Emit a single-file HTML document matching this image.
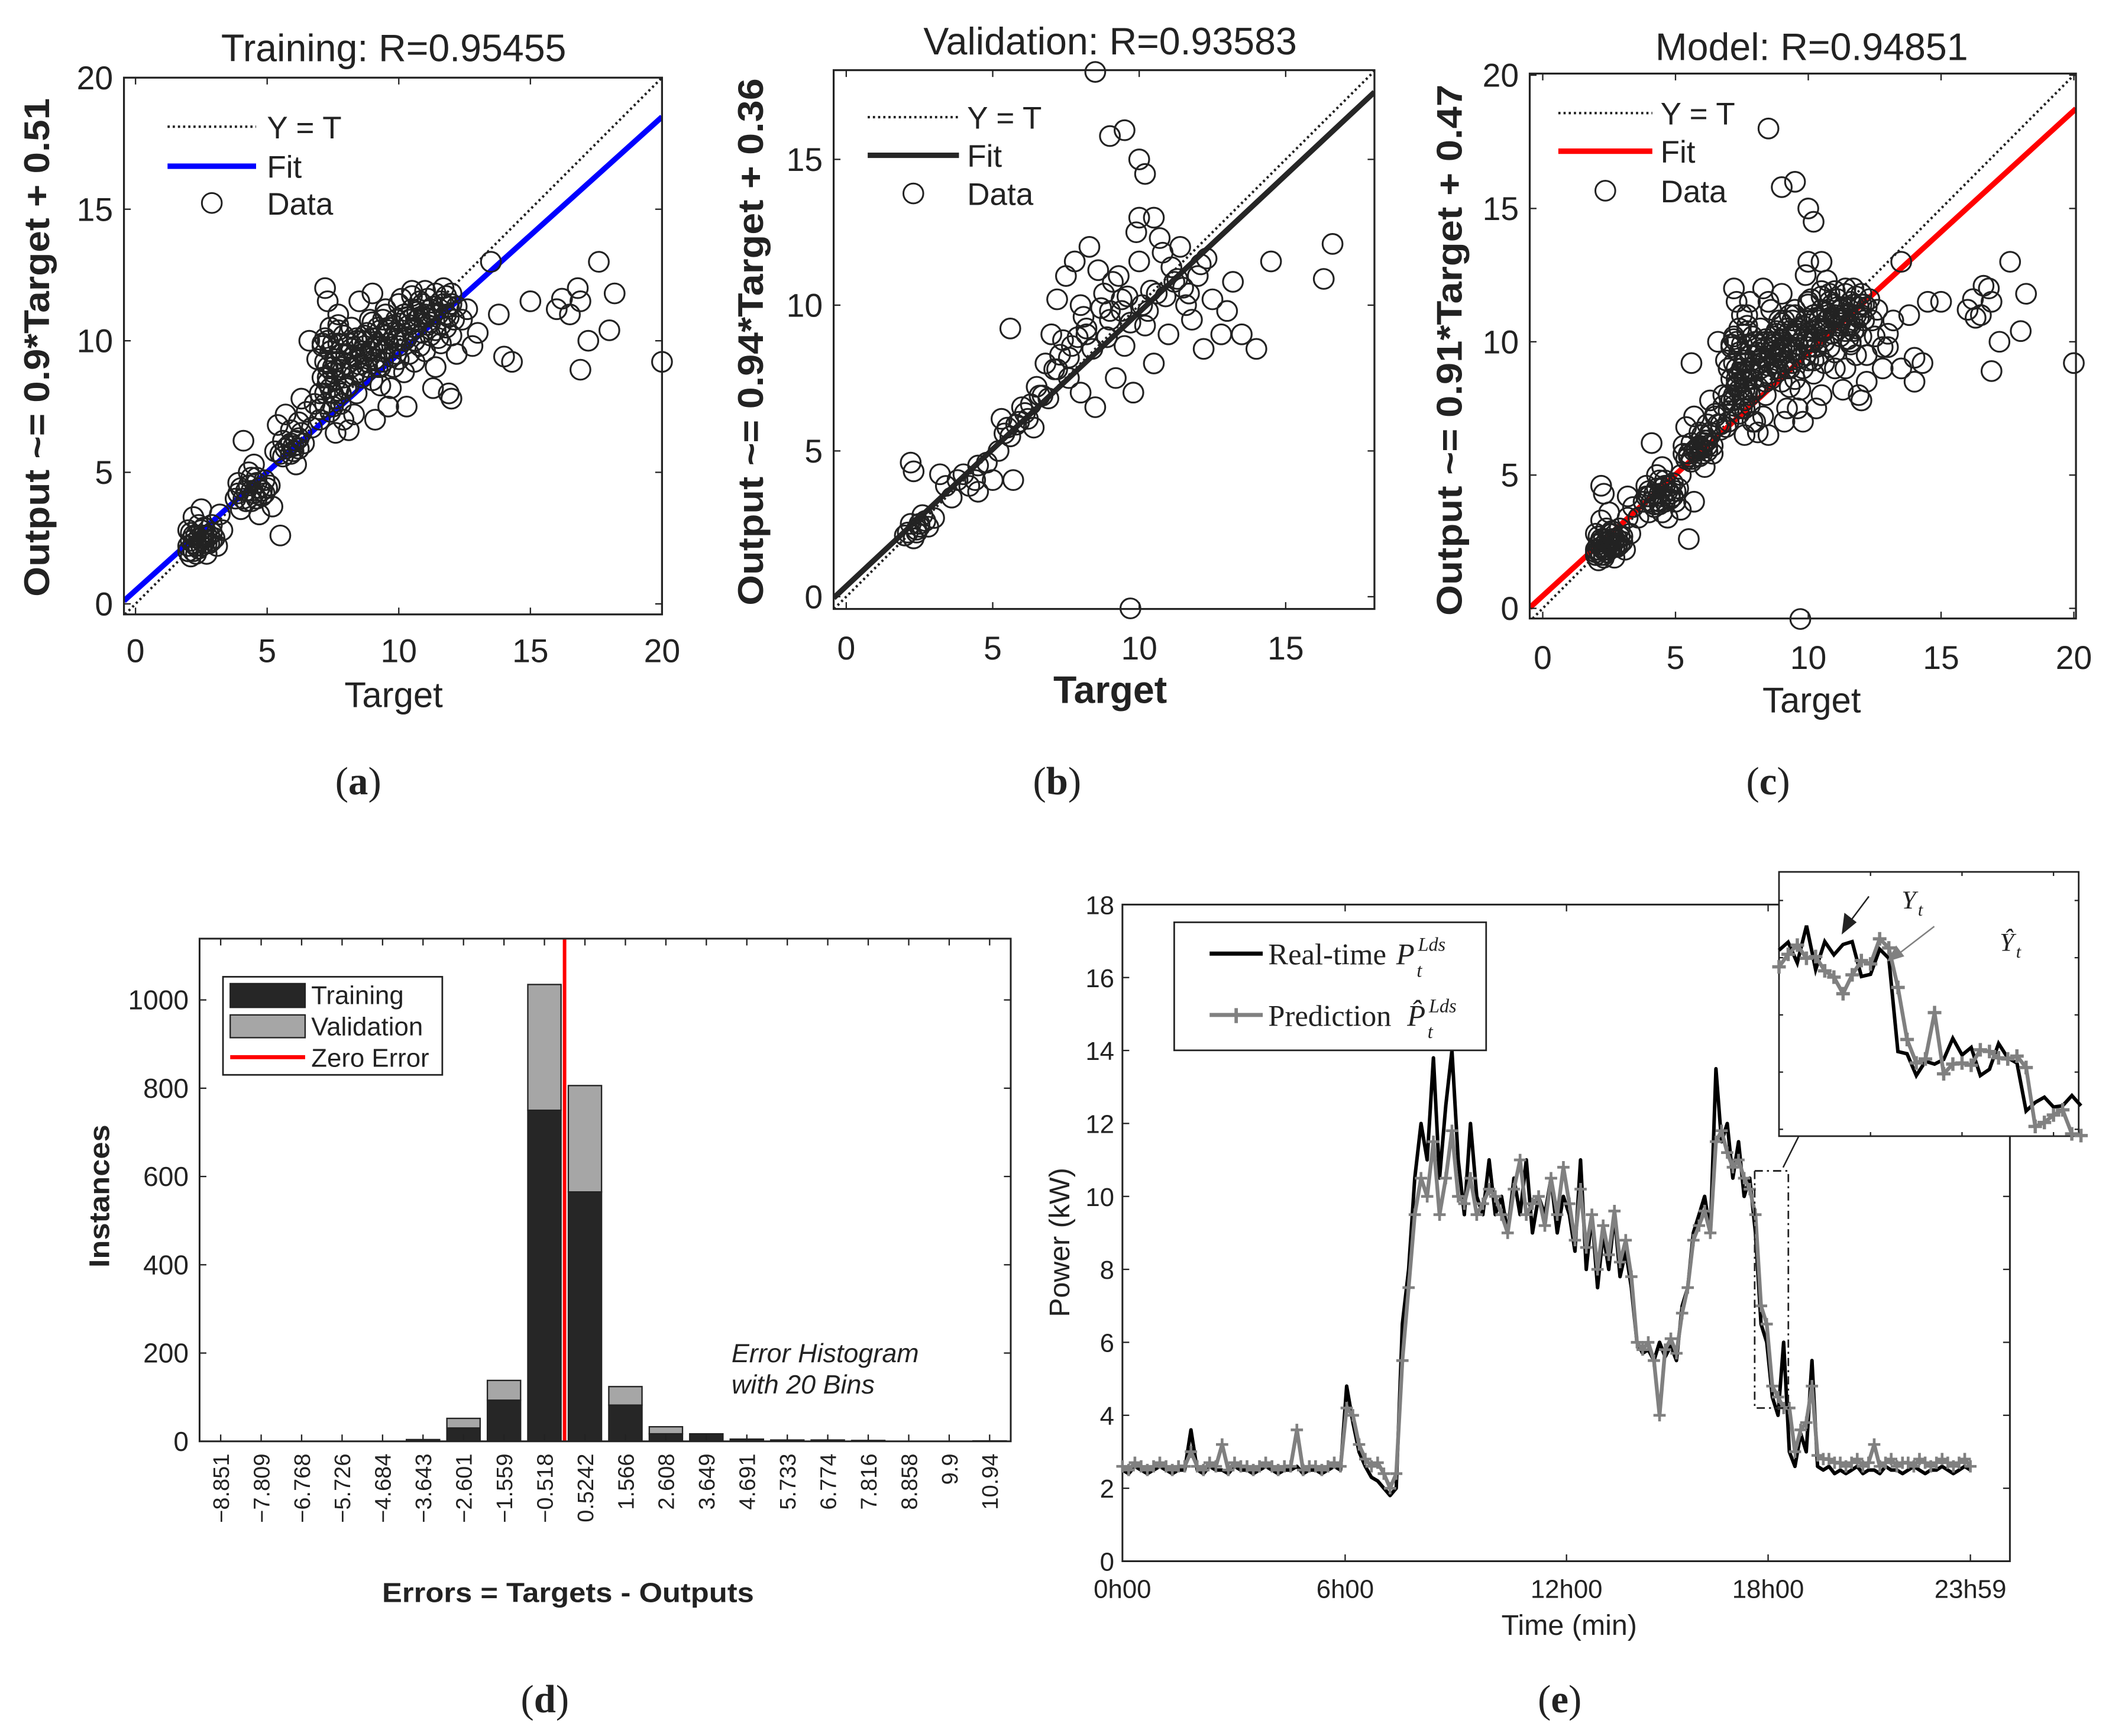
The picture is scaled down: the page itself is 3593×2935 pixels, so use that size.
<!DOCTYPE html>
<html><head><meta charset="utf-8">
<style>
html,body{margin:0;padding:0;background:#fff;}
svg{display:block;}
text{font-family:"Liberation Sans",sans-serif;fill:#222;}
.serif{font-family:"Liberation Serif",serif;}
</style></head>
<body>
<svg id="fig" xmlns="http://www.w3.org/2000/svg" width="3593" height="2935" viewBox="0 0 1560 1274.3">
<rect x="0" y="0" width="1560" height="1274.3" fill="#fff"/>
<g id="root"></g>
</svg>
<script>
// ---------- Scatter data (target, output) ----------
const trainT = [2,2.1,2.2,2.3,2.4,2.5,2.6,2.7,2.8,2.9,3.0,2.2,2.5,3.1,3.2,2.0,2.7,3.3,
3.8,4.0,4.2,4.4,4.6,4.8,5.0,4.3,3.9,4.5,5.2,4.1,5.5,4.7,
5.6,5.8,6.0,6.2,5.9,6.4,6.1,5.4,6.5,6.3,5.7,
7.0,7.2,7.3,7.5,7.6,7.8,7.4,7.1,7.9,7.6,7.3,7.2,8.0,6.9,6.6,7.7,
8.2,8.4,8.6,8.8,9.0,9.2,9.4,9.6,9.8,10.0,8.5,9.0,9.5,8.3,9.1,9.7,10.2,8.9,9.3,10.1,8.1,
10.4,10.6,10.8,11.0,11.2,11.4,11.6,11.8,12.0,10.5,11.3,12.2,12.4,11.9,12.6,10.3,12.8,12.0,11.7,13.0,
13.5,14.3,14.0,15.0,16.0,16.5,16.8,16.9,17.2,16.9,17.6,18.0,18.2,16.2,13.8,20,
7.5,7.8,8.0,8.2,8.4,8.6,8.8,9.0,9.2,9.4,9.6,9.8,10.0,10.2,10.4,10.6,10.8,11.0,11.2,11.4,11.6,11.8,12.0,
7.4,7.9,8.3,8.7,9.3,9.9,10.5,11.1,7.7,8.5,9.5,10.9,6.8,6.2,5.9,4.4,2.6,
7.3,7.6,7.4,7.8,8.1,8.4,8.9,9.6,10.3,10.7,11.3,11.5,12.2,7.5,7.7,7.2,8.6,9.1,9.9,10.6,11.9,2.3,2.9,4.6,4.9,5.3,6.7];
const trainO = [2,1.8,2.3,2.6,2.1,2.4,2.9,2.3,2.6,3.0,2.5,3.3,3.6,2.2,3.4,2.8,1.9,2.8,
4.0,3.6,4.3,3.9,4.6,4.1,4.4,5.0,4.6,5.3,3.7,6.2,2.6,3.4,
5.6,6.0,5.8,6.3,6.6,6.1,5.3,6.8,7.3,7.8,7.2,
7.0,8.0,9.0,7.5,8.5,9.5,10.5,9.8,7.0,6.5,11.5,12.0,8.2,9.3,10.0,11.0,
9.0,8.0,10.0,9.2,8.5,10.5,9.6,7.5,9.0,10.2,11.5,11.8,11.0,7.2,7.0,8.2,8.8,10.8,9.0,11.6,6.6,
9.5,10.5,9.8,11.0,10.2,9.0,11.5,10.5,11.8,11.9,8.2,9.5,10.8,8.0,11.2,7.5,9.8,7.8,12.0,10.3,
13.0,9.2,9.4,11.5,11.2,11.0,12.0,11.5,10.0,8.9,13.0,10.4,11.8,11.6,11.0,9.2,
9.0,8.0,9.5,10.5,9.3,8.6,10.3,9.7,9.0,10.8,9.9,10.6,9.3,10.0,10.8,9.2,10.9,9.6,11.2,10.4,9.9,11.0,10.2,
8.2,10.2,8.7,9.8,8.3,9.5,10.4,10.6,9.9,9.1,10.2,11.4,7.6,6.9,5.7,4.3,2.6,
8.6,9.2,9.6,8.9,9.9,10.0,9.4,10.4,10.9,11.1,11.0,10.1,11.3,8.0,10.6,10.1,9.6,9.8,10.0,10.0,11.3,2.2,2.4,4.8,4.2,5.8,6.7];
// dense core of the training cloud
const trainCoreT = [2.0,2.1,2.2,2.3,2.4,2.5,2.6,2.7,2.8,2.1,2.3,2.5,2.9,2.4,2.0,2.2,
3.9,4.1,4.3,4.5,4.7,4.9,4.2,4.6,4.0,4.8,4.4,5.1,
5.5,5.7,5.9,6.1,6.3,5.6,6.0,6.2,
7.0,7.1,7.2,7.3,7.4,7.5,7.6,7.7,7.8,7.9,8.0,7.2,7.4,7.6,7.1,7.3,7.5,7.7,7.0,7.8,8.1,8.2,8.3,8.4,8.5,8.6,8.7,8.8,8.9,
9.0,9.1,9.2,9.3,9.4,9.5,9.6,9.7,9.8,9.9,10.0,10.1,10.2,10.3,10.4,10.5,10.6,10.7,10.8,10.9,11.0,11.1,11.2,11.3,11.4,11.5,11.6,11.7,11.8,11.9,12.0,12.1,10.0,10.5,11.0,9.5,9.0];
const trainCoreO = [2.2,2.4,2.0,2.2,2.5,2.2,2.3,2.6,2.3,2.7,1.9,2.8,2.7,3.0,2.0,2.6,
4.2,4.0,4.5,4.2,4.4,4.7,3.9,4.0,4.4,4.3,4.8,4.5,
5.7,5.9,6.1,6.2,6.5,6.2,6.0,5.9,
8.0,8.6,9.2,8.4,9.6,8.8,9.3,8.1,9.0,8.6,9.1,7.6,7.3,7.8,9.9,10.0,9.9,10.4,7.4,7.6,8.3,9.7,9.4,10.1,8.8,9.5,10.2,9.0,9.6,
10.1,9.3,9.9,10.4,9.2,9.7,10.5,9.4,10.1,10.8,9.8,10.4,11.0,10.1,10.6,11.2,10.0,10.8,11.5,10.3,10.9,11.6,10.7,11.3,11.8,11.0,10.6,11.4,11.7,10.9,11.4,10.8,11.4,11.7,11.9,11.2,10.7];
const valT = [2,2.2,2.4,2.6,2.2,2.3,2.8,3.0,3.4,3.2,4.0,4.5,4.5,5.0,5.2,5.5,5.7,5.9,6.0,5.6,6.2,6.5,6.8,6.9,7.0,7.2,7.5,7.6,7.8,8.0,
8.2,8.0,8.4,8.6,8.5,8.8,9.0,9.2,9.3,9.5,9.6,9.8,10.0,10.2,10.4,10.5,10.8,11.0,11.2,11.4,11.6,11.8,12.0,12.2,12.5,12.8,13.0,13.5,13.2,14.0,
14.5,16.3,16.6,8.5,9.0,9.5,10.0,10.2,10.0,10.5,9.7,7.2,8.3,9.9,10.7,11.1,6.4,7.7,9.1,9.4,10.6,11.5,12.3,5.3,4.2,2.5,2.7,5.8,6.1,7.4,
2.1,2.3,2.5,2.4,3.6,3.8,4.4,4.8,5.4,5.6,6.3,6.6,7.1,7.3,7.9,8.1,8.7,8.9,9.4,9.7,10.1,10.3,10.9,11.3,11.7,12.1,6.7,7.6,8.2,9.0];
const valO = [2.1,2.5,2.3,2.8,4.6,4.3,2.4,2.7,3.8,4.2,4.2,3.6,4.5,4.0,5.0,5.8,4.0,6.0,6.5,9.2,6.1,7.2,8.0,6.8,9.0,10.2,11.0,7.5,11.5,10.0,
9.2,7.0,8.5,11.2,6.5,10.4,9.5,7.5,11.0,8.6,10.3,7.0,11.5,9.3,10.5,8.0,11.8,9.0,10.8,12.0,10.0,9.5,11.0,8.5,10.2,9.0,9.8,9.0,10.8,8.5,
11.5,10.9,12.1,18,15.8,16.0,15.0,14.5,13.0,13.0,-0.4,7.8,12.0,12.5,12.3,11.3,5.8,8.6,10.8,9.8,10.4,10.6,11.6,6.1,3.8,2.4,2.6,5.9,6.3,8.8,
2.2,2.0,2.5,2.2,3.4,4.0,4.0,4.6,5.6,5.5,6.6,6.9,7.8,8.3,8.9,9.6,9.9,8.9,10.2,9.4,10.0,9.8,10.3,10.9,10.4,11.4,6.9,8.2,9.0,9.8];
const allTrainT = trainT.concat(trainCoreT);
const allTrainO = trainO.concat(trainCoreO);
// model = all data
const modelT = allTrainT.concat(valT);
const modelO = allTrainO.concat(valO);
const scatterTicks = [0,5,10,15,20];

// ---------- Histogram data ----------
const binCenters = [-8.851,-7.809,-6.768,-5.726,-4.684,-3.643,-2.601,-1.559,-0.518,0.5242,1.566,2.608,3.649,4.691,5.733,6.774,7.816,8.858,9.9,10.94];
const binLabels = ["\u22128.851","\u22127.809","\u22126.768","\u22125.726","\u22124.684","\u22123.643","\u22122.601","\u22121.559","\u22120.518","0.5242","1.566","2.608","3.649","4.691","5.733","6.774","7.816","8.858","9.9","10.94"];
const histTrain = [0,0,0,0,0,4,30,93,750,565,82,17,17,5,3,3,2,0,0,1];
const histVal   = [0,0,0,0,0,0,22,45,285,241,42,16,0,0,0,0,0,0,0,0];
const histTicks = [0,200,400,600,800,1000];

// ---------- Time series (10-min samples, hours = i/6) ----------
const realP = [2.5,2.4,2.6,2.5,2.4,2.5,2.6,2.5,2.4,2.5,2.5,3.6,2.5,2.4,2.6,2.5,2.5,2.4,2.6,2.5,2.5,2.4,2.5,2.6,2.5,2.4,2.5,2.5,2.6,2.4,2.5,2.5,2.4,2.5,2.6,2.5,
4.8,3.8,3.0,2.6,2.3,2.2,2.0,1.8,2.0,6.5,8.0,10.5,
12.0,11.0,13.8,10.5,12.5,14.0,11.0,9.5,12.0,10.0,9.5,11.0,
9.5,10.0,9.0,10.5,9.5,11.0,9.0,10.0,9.5,10.5,9.0,10.0,
9.5,8.5,11.0,8.0,9.5,7.5,9.0,8.0,9.5,7.8,8.5,7.5,
6.0,5.7,5.8,5.5,6.0,5.6,5.9,5.5,7.0,7.5,9.0,9.5,
10.0,9.0,13.5,11.5,12.0,10.5,11.5,10.0,10.5,9.0,6.5,6.0,
4.5,4.0,6.0,3.0,2.6,3.5,3.0,5.5,2.6,2.5,2.6,2.4,
2.5,2.4,2.5,2.6,2.4,2.5,2.5,2.4,2.6,2.5,2.5,2.4,2.5,2.6,2.5,2.4,2.5,2.5,2.6,2.5,2.4,2.5,2.6,2.5];
const predP = [2.6,2.5,2.7,2.6,2.5,2.6,2.7,2.6,2.5,2.6,2.6,3.0,2.6,2.5,2.7,2.6,3.2,2.5,2.7,2.6,2.6,2.5,2.6,2.7,2.6,2.5,2.6,2.6,3.6,2.5,2.6,2.6,2.5,2.6,2.7,2.6,
4.2,4.0,3.2,2.8,2.6,2.7,2.4,2.0,2.4,5.5,7.5,9.5,
10.5,10.0,11.5,9.5,10.5,11.8,10.0,9.8,10.5,9.5,9.8,10.2,
10.0,9.5,9.0,10.2,11.0,9.5,9.8,10.0,9.2,10.5,9.5,10.8,
9.8,8.8,10.2,8.6,9.5,8.0,9.2,8.4,9.6,8.2,8.8,7.8,
6.0,5.8,6.0,5.5,4.0,5.8,6.1,5.7,6.8,7.5,8.8,9.2,
9.6,9.0,11.5,11.8,11.2,10.8,11.0,10.5,10.2,9.5,7.0,6.5,
4.8,4.5,4.2,4.2,3.0,3.6,3.8,4.8,2.9,2.8,2.8,2.7,
2.7,2.6,2.7,2.8,2.6,2.7,3.2,2.6,2.7,2.8,2.6,2.7,2.7,2.6,2.8,2.7,2.6,2.7,2.8,2.7,2.6,2.7,2.8,2.6];
const tsTicksV = [0,2,4,6,8,10,12,14,16,18];
const tsTickHours = [0,6,12,18,24];
const tsTickLabels = ["0h00","6h00","12h00","18h00","23h59"];
// inset (zoomed segment, sample index)
const insetReal = [16.13,16.27,15.91,16.56,15.79,16.28,16.05,16.23,16.28,15.67,15.71,16.15,15.99,14.36,14.32,13.94,14.19,14.14,14.22,14.59,14.30,14.43,13.94,14.05,14.50,14.25,14.16,13.32,13.47,13.56,13.39,13.41,13.59,13.41];
const insetPred = [15.84,16.06,16.22,15.99,16.02,15.77,15.66,15.37,15.70,15.95,15.89,16.33,16.17,15.48,14.57,14.16,14.23,15.04,13.97,14.14,14.16,14.12,14.39,14.36,14.25,14.23,14.28,14.08,13.05,13.12,13.25,13.34,12.92,12.89];

const NS = "http://www.w3.org/2000/svg";
const root = document.getElementById('root');
function el(tag, attrs, parent, txt){
  const e = document.createElementNS(NS, tag);
  for (const k in attrs) e.setAttribute(k, attrs[k]);
  if (txt !== undefined) e.textContent = txt;
  (parent || root).appendChild(e);
  return e;
}
function text(x,y,s,size,opts,parent){
  const o = Object.assign({x:x,y:y,'font-size':size,'text-anchor':'middle'}, opts||{});
  return el('text', o, parent, s);
}

// ---------- Scatter panel ----------
function scatterPanel(cfg){
  const g = el('g', {});
  
  
  const sx = v => cfg.L + (v - cfg.xmin) / (cfg.xmax - cfg.xmin) * (cfg.R - cfg.L);
  const sy = v => cfg.B - (v - cfg.ymin) / (cfg.ymax - cfg.ymin) * (cfg.B - cfg.T);
  const clipId = 'clip-' + cfg.name;
  const cp = el('clipPath', {id: clipId}, g);
  el('rect', {x:cfg.L, y:cfg.T, width:cfg.R-cfg.L, height:cfg.B-cfg.T}, cp);
  const x1 = Math.max(cfg.xmin, cfg.ymin), x2 = Math.min(cfg.xmax, cfg.ymax);
  const yt = el('line', {x1:sx(x1), y1:sy(x1), x2:sx(x2), y2:sy(x2), stroke:'#222', 'stroke-width':1.8, 'stroke-dasharray':'1.6 2.2', 'clip-path':'url(#'+clipId+')'}, g);
  
  
  const fy1 = cfg.a * cfg.xmin + cfg.b, fy2 = cfg.a * cfg.xmax + cfg.b;
  const fl = el('line', {x1:sx(cfg.xmin), y1:sy(fy1), x2:sx(cfg.xmax), y2:sy(fy2), stroke:cfg.fitColor, 'stroke-width':4, 'clip-path':'url(#'+clipId+')'}, g);
  
  
  const pg = el('g', {fill:'none', stroke:'#222', 'stroke-width':1.35}, g);
  
  
  for (let i = 0; i < cfg.T_.length; i++){
    const c = el('circle', {cx:sx(cfg.T_[i]), cy:sy(cfg.O_[i]), r:7.3}, pg);
    
    
  }
  const bx = el('rect', {x:cfg.L, y:cfg.T, width:cfg.R-cfg.L, height:cfg.B-cfg.T, fill:'none', stroke:'#222', 'stroke-width':1.4}, g);
  
  
  cfg.xticks.forEach(v => {
    const X = sx(v);
    el('line', {x1:X, y1:cfg.B, x2:X, y2:cfg.B-5, stroke:'#222', 'stroke-width':1}, g);
    el('line', {x1:X, y1:cfg.T, x2:X, y2:cfg.T+5, stroke:'#222', 'stroke-width':1}, g);
    const t = text(X, cfg.xtickY, String(v), 24, {}, g);
    
    
  });
  cfg.yticks.forEach(v => {
    const Y = sy(v);
    el('line', {x1:cfg.L, y1:Y, x2:cfg.L+5, y2:Y, stroke:'#222', 'stroke-width':1}, g);
    el('line', {x1:cfg.R, y1:Y, x2:cfg.R-5, y2:Y, stroke:'#222', 'stroke-width':1}, g);
    const t = text(cfg.L-8, Y+8.5, String(v), 24, {'text-anchor':'end'}, g);
    
    
  });
  const ti = text(cfg.titleX, cfg.titleY, cfg.title, 28, {}, g);
  
  
  const xl = text(cfg.xlabX, cfg.xlabY, 'Target', cfg.xlabBold?28:26, cfg.xlabBold?{'font-weight':'bold'}:{}, g);
  
  
  const yl = text(0, 0, cfg.ylabel, 26, {'font-weight':'bold', transform:'translate('+cfg.ylabX+','+cfg.ylabCY+') rotate(-90)', textLength:cfg.ylabLen, lengthAdjust:'spacingAndGlyphs'}, g);
  
  
  const lg = el('g', {}, g);
  
  
  el('line', {x1:cfg.lg.x1, y1:cfg.lg.y1, x2:cfg.lg.x2, y2:cfg.lg.y1, stroke:'#222', 'stroke-width':1.8, 'stroke-dasharray':'1.6 2.2'}, lg);
  el('line', {x1:cfg.lg.x1, y1:cfg.lg.y2, x2:cfg.lg.x2, y2:cfg.lg.y2, stroke:cfg.fitColor, 'stroke-width':4}, lg);
  el('circle', {cx:(cfg.lg.x1+cfg.lg.x2)/2, cy:cfg.lg.y3, r:7.3, fill:'none', stroke:'#222', 'stroke-width':1.3}, lg);
  text(cfg.lg.tx, cfg.lg.y1+8.5, 'Y = T', 23, {'text-anchor':'start'}, lg);
  text(cfg.lg.tx, cfg.lg.y2+8.5, 'Fit', 23, {'text-anchor':'start'}, lg);
  text(cfg.lg.tx, cfg.lg.y3+8.5, 'Data', 23, {'text-anchor':'start'}, lg);
}

scatterPanel({name:'training-regression', L:91, R:486, T:57, B:451, xmin:-0.44, xmax:20, ymin:-0.4, ymax:20,
  a:0.9, b:0.51, fitColor:'#0000ff', T_:allTrainT, O_:allTrainO, xticks:scatterTicks, yticks:scatterTicks,
  xtickY:486, title:'Training: R=0.95455', titleX:289, titleY:45, xlabX:289, xlabY:519, xlabBold:false,
  ylabel:'Output ~= 0.9*Target + 0.51', ylabX:36, ylabCY:255, ylabLen:366,
  lg:{x1:123, x2:188, y1:93, y2:122, y3:149, tx:196}});
scatterPanel({name:'validation-regression', L:612, R:1009, T:51.5, B:447, xmin:-0.43, xmax:18.03, ymin:-0.42, ymax:18.06,
  a:0.94, b:0.36, fitColor:'#262626', T_:valT, O_:valO, xticks:[0,5,10,15], yticks:[0,5,10,15],
  xtickY:484, title:'Validation: R=0.93583', titleX:815, titleY:40, xlabX:815, xlabY:516, xlabBold:true,
  ylabel:'Output ~= 0.94*Target + 0.36', ylabX:560, ylabCY:251, ylabLen:387,
  lg:{x1:637, x2:704, y1:86, y2:114, y3:142, tx:710}});
scatterPanel({name:'model-regression', L:1123, R:1524, T:54, B:454, xmin:-0.49, xmax:20.08, ymin:-0.38, ymax:20.06,
  a:0.91, b:0.47, fitColor:'#ff0000', T_:modelT, O_:modelO, xticks:scatterTicks, yticks:scatterTicks,
  xtickY:491, title:'Model: R=0.94851', titleX:1330, titleY:44, xlabX:1330, xlabY:523, xlabBold:false,
  ylabel:'Output ~= 0.91*Target + 0.47', ylabX:1073, ylabCY:257, ylabLen:390,
  lg:{x1:1144, x2:1213, y1:83, y2:111, y3:140, tx:1219}});

// panel letters
[['(a)',263,583],['(b)',776,583],['(c)',1298,583],['(d)',400,1257],['(e)',1145,1257]].forEach(p => {
  const t = el('text', {x:p[1], y:p[2], 'font-size':29, 'text-anchor':'middle', class:'serif'});
  t.appendChild(document.createTextNode('('));
  el('tspan', {'font-weight':'bold'}, t, p[0][1]);
  t.appendChild(document.createTextNode(')'));
  
  
});

// ---------- Histogram ----------
(function(){
  const g = el('g', {});
  
  
  const L = 146.5, R = 742, T = 689, B = 1058;
  const c0 = 162, c19 = 726.5;
  const hx = v => c0 + (v - binCenters[0]) / (binCenters[19] - binCenters[0]) * (c19 - c0);
  const hy = v => B - v / 1000 * (B - 734);
  const half = 12.2;
  for (let i = 0; i < binCenters.length; i++){
    const X = hx(binCenters[i]);
    const tot = histTrain[i] + histVal[i];
    if (tot > 0){
      const v = el('rect', {x:X-half, y:hy(tot), width:2*half, height:hy(histTrain[i])-hy(tot), fill:'#a6a6a6', stroke:'#222', 'stroke-width':1}, g);
      
      
      const t = el('rect', {x:X-half, y:hy(histTrain[i]), width:2*half, height:B-hy(histTrain[i]), fill:'#262626', stroke:'#222', 'stroke-width':1}, g);
      
      
    }
    el('line', {x1:X, y1:B, x2:X, y2:B-5, stroke:'#222', 'stroke-width':1}, g);
    el('line', {x1:X, y1:T, x2:X, y2:T+5, stroke:'#222', 'stroke-width':1}, g);
    const lb = el('text', {x:0, y:0, 'font-size':16.5, 'text-anchor':'end', transform:'translate('+(X+6)+','+(B+9)+') rotate(-90)'}, g, binLabels[i]);
    
    
  }
  const zx = hx(0);
  const zl = el('line', {x1:zx, y1:T, x2:zx, y2:B, stroke:'#ff0000', 'stroke-width':2.6}, g);
  
  
  el('rect', {x:L, y:T, width:R-L, height:B-T, fill:'none', stroke:'#222', 'stroke-width':1.3}, g);
  histTicks.forEach(v => {
    const Y = hy(v);
    el('line', {x1:L, y1:Y, x2:L+5, y2:Y, stroke:'#222', 'stroke-width':1}, g);
    el('line', {x1:R, y1:Y, x2:R-5, y2:Y, stroke:'#222', 'stroke-width':1}, g);
    const t = text(L-8, Y+7, String(v), 20, {'text-anchor':'end'}, g);
    
    
  });
  const yl = text(0, 0, 'Instances', 21, {'font-weight':'bold', transform:'translate(80,878) rotate(-90)', textLength:105, lengthAdjust:'spacingAndGlyphs'}, g);
  
  
  const xl = text(417, 1176, 'Errors = Targets - Outputs', 20, {'font-weight':'bold', textLength:273, lengthAdjust:'spacingAndGlyphs'}, g);
  
  
  const a1 = text(537, 1000, 'Error Histogram', 19.5, {'text-anchor':'start', 'font-style':'italic'}, g);
  
  
  const a2 = text(537, 1023, 'with 20 Bins', 19.5, {'text-anchor':'start', 'font-style':'italic'}, g);
  
  
  const lg = el('g', {}, g);
  
  
  el('rect', {x:163.7, y:717, width:161, height:72, fill:'#fff', stroke:'#222', 'stroke-width':1.2}, lg);
  el('rect', {x:169, y:722, width:55, height:17.5, fill:'#262626', stroke:'#222', 'stroke-width':1}, lg);
  el('rect', {x:169, y:745, width:55, height:16.7, fill:'#a6a6a6', stroke:'#222', 'stroke-width':1}, lg);
  el('line', {x1:169, y1:776, x2:224, y2:776, stroke:'#ff0000', 'stroke-width':3}, lg);
  text(228.5, 737, 'Training', 19, {'text-anchor':'start'}, lg);
  text(228.5, 760, 'Validation', 19, {'text-anchor':'start'}, lg);
  text(228.5, 783, 'Zero Error', 19, {'text-anchor':'start'}, lg);
})();

// ---------- Time series ----------
(function(){
  const g = el('g', {});
  
  
  const L = 824, R = 1475.5, T = 664, B = 1146;
  const hourPx = [824, 987.5, 1150, 1298, 1446.5];
  const tx = h => {
    let k = Math.min(3, Math.max(0, Math.floor(h / 6)));
    return hourPx[k] + (h - tsTickHours[k]) / 6 * (hourPx[k+1] - hourPx[k]);
  };
  const ty = v => B - v / 18 * (B - T);
  el('rect', {x:L, y:T, width:R-L, height:B-T, fill:'none', stroke:'#222', 'stroke-width':1.3}, g);
  tsTicksV.forEach(v => {
    const Y = ty(v);
    el('line', {x1:L, y1:Y, x2:L+5, y2:Y, stroke:'#222', 'stroke-width':1}, g);
    el('line', {x1:R, y1:Y, x2:R-5, y2:Y, stroke:'#222', 'stroke-width':1}, g);
    const t = text(L-6, Y+7, String(v), 19, {'text-anchor':'end'}, g);
    
    
  });
  tsTickHours.forEach((h, i) => {
    const X = tx(h);
    el('line', {x1:X, y1:B, x2:X, y2:B-5, stroke:'#222', 'stroke-width':1}, g);
    el('line', {x1:X, y1:T, x2:X, y2:T+5, stroke:'#222', 'stroke-width':1}, g);
    const t = text(X, 1173, tsTickLabels[i], 19, {}, g);
    
    
  });
  const yl = text(0, 0, 'Power (kW)', 21, {transform:'translate(785,912) rotate(-90)'}, g);
  
  
  const xl = text(1152, 1200, 'Time (min)', 21, {}, g);
  
  
  const n = realP.length;
  const hr = i => i * 24 / (n - 1);
  let d1 = '', d2 = '';
  for (let i = 0; i < n; i++){ d1 += (i? 'L':'M') + tx(hr(i)).toFixed(1) + ' ' + ty(realP[i]).toFixed(1); }
  for (let i = 0; i < n; i++){ d2 += (i? 'L':'M') + tx(hr(i)).toFixed(1) + ' ' + ty(predP[i]).toFixed(1); }
  const rl = el('path', {d:d1, fill:'none', stroke:'#000', 'stroke-width':2.6, 'stroke-linejoin':'round'}, g);
  
  
  const pl = el('path', {d:d2, fill:'none', stroke:'#808080', 'stroke-width':2.8, 'stroke-linejoin':'round'}, g);
  
  
  const mg = el('g', {stroke:'#808080', 'stroke-width':2}, g);
  
  
  for (let i = 0; i < n; i++){
    const X = tx(hr(i)), Y = ty(predP[i]);
    el('path', {d:'M'+(X-4.5)+' '+Y+'H'+(X+4.5)+'M'+X+' '+(Y-4.5)+'V'+(Y+4.5)}, mg);
  }
  const zr = el('rect', {x:tx(17.6), y:ty(10.7), width:tx(18.6)-tx(17.6), height:ty(4.2)-ty(10.7), fill:'none', stroke:'#222', 'stroke-width':1.2, 'stroke-dasharray':'6 3 1.5 3'}, g);
  
  
  // legend
  const lg = el('g', {}, g);
  
  
  el('rect', {x:862, y:677, width:229, height:94, fill:'#fff', stroke:'#222', 'stroke-width':1.2}, lg);
  el('line', {x1:888, y1:700, x2:927, y2:700, stroke:'#000', 'stroke-width':3}, lg);
  el('line', {x1:888, y1:745, x2:927, y2:745, stroke:'#808080', 'stroke-width':3}, lg);
  el('path', {d:'M907.5 740V751', stroke:'#808080', 'stroke-width':2.5}, lg);
  el('text', {x:931, y:708, 'font-size':22, class:'serif'}, lg, 'Real-time');
  el('text', {x:1025, y:708, 'font-size':22, 'font-style':'italic', class:'serif'}, lg, 'P');
  el('text', {x:1041, y:698, 'font-size':14, 'font-style':'italic', class:'serif'}, lg, 'Lds');
  el('text', {x:1040, y:717, 'font-size':14, 'font-style':'italic', class:'serif'}, lg, 't');
  el('text', {x:931, y:753, 'font-size':22, class:'serif'}, lg, 'Prediction');
  el('text', {x:1033, y:753, 'font-size':22, 'font-style':'italic', class:'serif'}, lg, 'P\u0302');
  el('text', {x:1049, y:743, 'font-size':14, 'font-style':'italic', class:'serif'}, lg, 'Lds');
  el('text', {x:1048, y:762, 'font-size':14, 'font-style':'italic', class:'serif'}, lg, 't');
  // arrow from zoom rect to inset
  el('line', {x1:1309, y1:857, x2:1328, y2:819, stroke:'#222', 'stroke-width':1.1}, g);
  el('path', {d:'M1331 812 L1323 822 L1331 822 Z', fill:'#222'}, g);
  // inset
  const ig = el('g', {}, g);
  
  
  const IL = 1306, IR = 1526, IT = 640, IB = 834;
  el('rect', {x:IL, y:IT, width:IR-IL, height:IB-IT, fill:'#fff', stroke:'#222', 'stroke-width':1.2}, ig);
  const ix = i => IL + i / 32.75 * (IR - IL);
  const iy = v => IT + (17.5 - v) / (17.5 - 12.88) * (IB - IT);
  [13,14,15,16,17].forEach(v => {
    el('line', {x1:IL, y1:iy(v), x2:IL+3, y2:iy(v), stroke:'#222', 'stroke-width':1}, ig);
    el('line', {x1:IR, y1:iy(v), x2:IR-3, y2:iy(v), stroke:'#222', 'stroke-width':1}, ig);
  });
  [10,20,30].forEach(v => {
    el('line', {x1:ix(v), y1:IT, x2:ix(v), y2:IT+3, stroke:'#222', 'stroke-width':1}, ig);
    el('line', {x1:ix(v), y1:IB, x2:ix(v), y2:IB-3, stroke:'#222', 'stroke-width':1}, ig);
  });
  let e1 = '', e2 = '';
  insetReal.forEach((v, i) => { e1 += (i?'L':'M') + ix(i).toFixed(1) + ' ' + iy(v).toFixed(1); });
  insetPred.forEach((v, i) => { e2 += (i?'L':'M') + ix(i).toFixed(1) + ' ' + iy(v).toFixed(1); });
  const ir = el('path', {d:e1, fill:'none', stroke:'#000', 'stroke-width':2.6}, ig);
  
  
  const ip = el('path', {d:e2, fill:'none', stroke:'#808080', 'stroke-width':2.8}, ig);
  
  
  const img = el('g', {stroke:'#808080', 'stroke-width':2.4}, ig);
  insetPred.forEach((v, i) => {
    const X = ix(i), Y = iy(v);
    el('path', {d:'M'+(X-5)+' '+Y+'H'+(X+5)+'M'+X+' '+(Y-5)+'V'+(Y+5)}, img);
  });
  el('line', {x1:1372, y1:658, x2:1357, y2:678, stroke:'#222', 'stroke-width':1.1}, ig);
  el('path', {d:'M1352 686 L1354 670 L1363 677 Z', fill:'#222'}, ig);
  el('line', {x1:1420, y1:680, x2:1394, y2:700, stroke:'#808080', 'stroke-width':1.1}, ig);
  el('path', {d:'M1385 706 L1392 694 L1398 702 Z', fill:'#808080'}, ig);
  el('text', {x:1396, y:667, 'font-size':19, 'font-style':'italic', class:'serif'}, ig, 'Y');
  el('text', {x:1408, y:672, 'font-size':13, 'font-style':'italic', class:'serif'}, ig, 't');
  el('text', {x:1468, y:698, 'font-size':19, 'font-style':'italic', class:'serif'}, ig, 'Y\u0302');
  el('text', {x:1480, y:703, 'font-size':13, 'font-style':'italic', class:'serif'}, ig, 't');
})();
</script>
</body></html>
